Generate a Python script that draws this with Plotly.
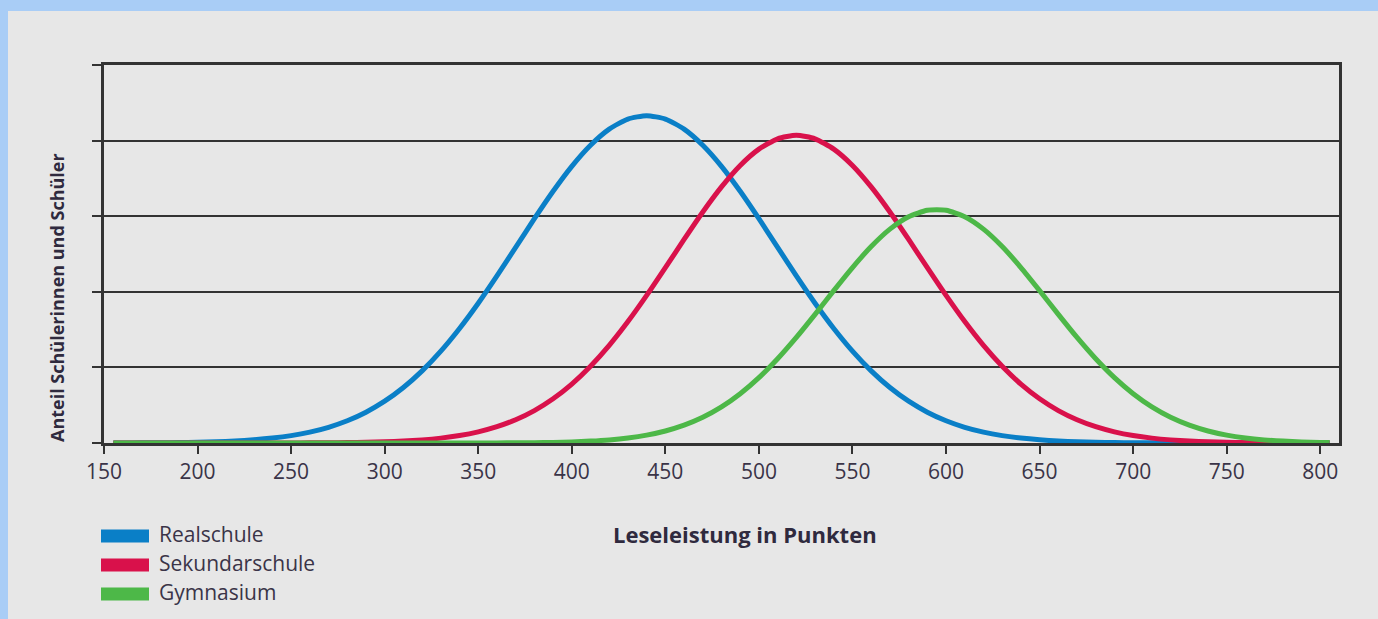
import plotly.graph_objects as go

# Data (x = Leseleistung in Punkten, y = relative share, grid units 0..5)
x_values = [155, 160, 170, 180, 190, 200, 210, 220, 230, 240, 250, 260, 270, 280, 290, 300,
            310, 320, 330, 340, 350, 360, 370, 380, 390, 400, 410, 420, 430, 440, 450,
            460, 470, 480, 490, 500, 510, 520, 530, 540, 550, 560, 570, 580, 590, 600,
            610, 620, 630, 640, 650, 660, 670, 680, 690, 700, 710, 720, 730, 740, 750,
            760, 770, 780, 790, 800, 805]
realschule = [0.0009, 0.0012, 0.0020, 0.0036, 0.0061, 0.0102, 0.0167, 0.0268, 0.0422, 0.0649,
              0.0977, 0.144, 0.208, 0.294, 0.408, 0.553, 0.734, 0.954, 1.215, 1.515, 1.849,
              2.211, 2.588, 2.967, 3.330, 3.660, 3.939, 4.152, 4.285, 4.330, 4.285, 4.152,
              3.939, 3.660, 3.330, 2.967, 2.588, 2.211, 1.849, 1.515, 1.215, 0.954, 0.734,
              0.553, 0.408, 0.294, 0.208, 0.144, 0.0977, 0.0649, 0.0422, 0.0268, 0.0167,
              0.0102, 0.0061, 0.0036, 0.0020, 0.0012, 0.0006, 0.0003, 0.0002, 0.0001, 0.0,
              0.0, 0.0, 0.0, 0.0]
sekundarschule = [0.0, 0.0, 0.0, 0.0, 0.0, 0.0, 0.0001, 0.0001, 0.0002, 0.0005, 0.0009,
                  0.0017, 0.0031, 0.0055, 0.0094, 0.0157, 0.0258, 0.0413, 0.0646, 0.0987,
                  0.148, 0.216, 0.308, 0.429, 0.585, 0.779, 1.015, 1.291, 1.606, 1.952, 2.319,
                  2.692, 3.055, 3.387, 3.671, 3.887, 4.024, 4.070, 4.024, 3.887, 3.671, 3.387,
                  3.055, 2.692, 2.319, 1.952, 1.606, 1.291, 1.015, 0.779, 0.585, 0.429, 0.308,
                  0.216, 0.148, 0.0987, 0.0646, 0.0413, 0.0258, 0.0157, 0.0094, 0.0055, 0.0031,
                  0.0017, 0.0009, 0.0005, 0.0003]
gymnasium = [0.0, 0.0, 0.0, 0.0, 0.0, 0.0, 0.0, 0.0, 0.0, 0.0, 0.0, 0.0, 0.0, 0.0, 0.0, 0.0,
             0.0, 0.0001, 0.0002, 0.0003, 0.0006, 0.0013, 0.0024, 0.0045, 0.008, 0.014, 0.025,
             0.041, 0.066, 0.104, 0.159, 0.236, 0.340, 0.477, 0.651, 0.864, 1.114, 1.396,
             1.701, 2.016, 2.321, 2.599, 2.829, 2.993, 3.079, 3.079, 2.993, 2.829, 2.599,
             2.321, 2.016, 1.701, 1.396, 1.114, 0.864, 0.651, 0.477, 0.340, 0.236, 0.159,
             0.104, 0.066, 0.041, 0.025, 0.014, 0.008, 0.006]

series_names = ["Realschule", "Sekundarschule", "Gymnasium"]
series_values = [realschule, sekundarschule, gymnasium]
series_colors = ["#0a7fc7", "#d9114b", "#4db848"]

x_ticks = [150, 200, 250, 300, 350, 400, 450, 500, 550, 600, 650, 700, 750, 800]
x_title = "Leseleistung in Punkten"
y_title = "Anteil Schülerinnen und Schüler"

W, H = 1378, 619
L, R, T, B = 104, 39, 65, 176
pw, ph = W - L - R, H - T - B

def px_to_paper_x(px):
    return (px - L) / pw

def px_to_paper_y(py):
    return (H - B - py) / ph

fig = go.Figure()
for name, vals, col in zip(series_names, series_values, series_colors):
    fig.add_trace(go.Scatter(x=x_values, y=vals, name=name, mode="lines",
                             line=dict(color=col, width=5, shape="spline", smoothing=0.6),
                             showlegend=False, hoverinfo="skip"))

shapes = [
    # gray panel
    dict(type="rect", xref="paper", yref="paper", layer="below",
         x0=px_to_paper_x(8), x1=px_to_paper_x(W + 5), y0=px_to_paper_y(H + 5), y1=px_to_paper_y(11),
         fillcolor="#e7e7e7", line=dict(width=0)),
]
annotations = []
legend_rows = [536, 565, 594]
for name, col, yc in zip(series_names, series_colors, legend_rows):
    shapes.append(dict(type="rect", xref="paper", yref="paper",
                       x0=px_to_paper_x(101), x1=px_to_paper_x(149),
                       y0=px_to_paper_y(yc + 6.5), y1=px_to_paper_y(yc - 6.5),
                       fillcolor=col, line=dict(width=0)))
    annotations.append(dict(text=name, xref="paper", yref="paper",
                            x=px_to_paper_x(157), y=px_to_paper_y(yc - 2),
                            xanchor="left", yanchor="middle", showarrow=False,
                            font=dict(family="Open Sans", size=21, color="#3a3448")))

annotations.append(dict(text="<b>" + x_title + "</b>", xref="paper", yref="paper",
                        x=px_to_paper_x(745), y=px_to_paper_y(534), xanchor="center",
                        yanchor="middle", showarrow=False,
                        font=dict(family="Open Sans", size=22, color="#2f2a3e")))
annotations.append(dict(text="<b>" + y_title + "</b>", xref="paper", yref="paper",
                        x=px_to_paper_x(57), y=px_to_paper_y(298), xanchor="center",
                        yanchor="middle", showarrow=False, textangle=-90,
                        font=dict(family="Open Sans", size=18, color="#2f2a3e")))

fig.update_layout(
    width=W, height=H,
    margin=dict(l=L, r=R, t=T, b=B, pad=0),
    paper_bgcolor="#a9cdf6",
    plot_bgcolor="rgba(0,0,0,0)",
    shapes=shapes,
    annotations=annotations,
    xaxis=dict(range=[150, 810], tickvals=x_ticks, ticktext=[str(v) for v in x_ticks],
               showgrid=False, zeroline=False, showline=True, linecolor="#333333", linewidth=2.5,
               mirror=True, ticks="outside", ticklen=8, tickwidth=2, tickcolor="#333333",
               tickfont=dict(family="Open Sans", size=21, color="#3a3448")),
    yaxis=dict(range=[0, 5], dtick=1, tick0=0, showticklabels=False, showgrid=True,
               gridcolor="#333333", gridwidth=2, zeroline=False, showline=True,
               linecolor="#333333", linewidth=2.5, mirror=True, ticks="outside", ticklen=9,
               tickwidth=2, tickcolor="#333333"),
)

fig.write_html("out.html", config={"displayModeBar": False},
               post_script="document.body.style.margin='0';document.body.style.overflow='hidden';"
                           "document.body.style.background='#a9cdf6';")
